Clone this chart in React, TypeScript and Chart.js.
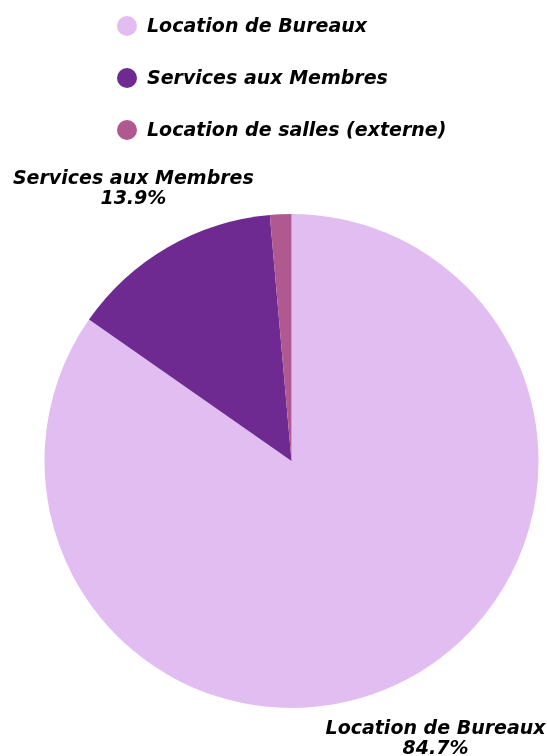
import React, { useEffect, useRef } from "react";
import { Chart, registerables } from "chart.js";

Chart.register(...registerables);

const categories = ["Location de Bureaux", "Services aux Membres", "Location de salles (externe)"];
const values = [84.7, 13.9, 1.4];
const colors = ["#E2BDF2", "#6E2A91", "#B05890"];
const percentLabels = ["84.7%", "13.9%", "1.4%"];
const minLabelValue = 5;

const FONT = "italic bold 19px 'DejaVu Sans'";

const legendPlugin = {
  id: "customLegend",
  afterDraw(chart: any) {
    const ctx = chart.ctx;
    const labels = chart.data.labels as string[];
    const bg = chart.data.datasets[0].backgroundColor as string[];
    ctx.save();
    ctx.font = FONT;
    ctx.textBaseline = "middle";
    ctx.textAlign = "left";
    labels.forEach((l, i) => {
      const cy = 26 + i * 52;
      ctx.beginPath();
      ctx.fillStyle = bg[i];
      ctx.arc(127, cy, 10, 0, Math.PI * 2);
      ctx.fill();
      ctx.fillStyle = "#000";
      ctx.fillText(l, 147, cy + 1);
    });
    ctx.restore();
  },
};

const outsideLabels = {
  id: "outsideLabels",
  afterDraw(chart: any) {
    const ctx = chart.ctx;
    const meta = chart.getDatasetMeta(0);
    const data = chart.data.datasets[0].data as number[];
    const labels = chart.data.labels as string[];
    ctx.save();
    ctx.font = FONT;
    ctx.fillStyle = "#000";
    ctx.textAlign = "center";
    ctx.textBaseline = "middle";
    meta.data.forEach((arc: any, i: number) => {
      if (data[i] < minLabelValue) return;
      const { x, y, startAngle, endAngle, outerRadius } = arc.getProps(
        ["x", "y", "startAngle", "endAngle", "outerRadius"],
        true
      );
      const mid = (startAngle + endAngle) / 2;
      const r = outerRadius * 1.27;
      const lx = x + Math.cos(mid) * r;
      const ly = y + Math.sin(mid) * r;
      ctx.fillText(labels[i], lx - 1, ly - 10);
      ctx.fillText(percentLabels[i], lx - 1, ly + 10);
    });
    ctx.restore();
  },
};

export default function App() {
  const ref = useRef<HTMLCanvasElement | null>(null);
  useEffect(() => {
    if (!ref.current) return;
    const chart = new Chart(ref.current, {
      type: "pie",
      data: {
        labels: categories,
        datasets: [
          {
            data: values,
            backgroundColor: colors,
            borderWidth: 0,
            hoverOffset: 0,
          },
        ],
      },
      options: {
        responsive: false,
        animation: false,
        layout: { padding: { left: 44.5, right: 8.5, top: 214, bottom: 48 } },
        plugins: {
          legend: { display: false },
          tooltip: { enabled: false },
        },
      },
      plugins: [legendPlugin, outsideLabels],
    });
    return () => chart.destroy();
  }, []);
  return (
    <div style={{ position: "fixed", left: 0, top: 0, width: 547, height: 756, background: "#fff" }}>
      <canvas ref={ref} width={547} height={756} style={{ width: 547, height: 756 }} />
    </div>
  );
}
